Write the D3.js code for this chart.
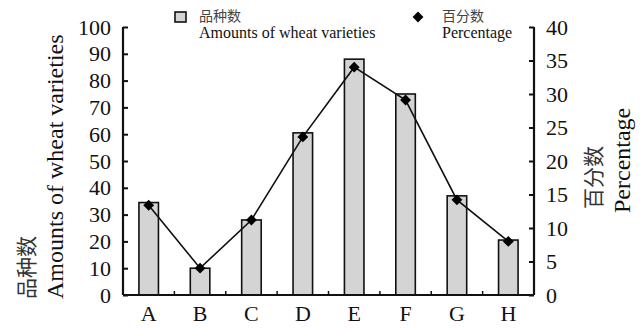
<!DOCTYPE html>
<html><head><meta charset="utf-8">
<script src="https://cdn.jsdelivr.net/npm/d3@7"></script>
<style>body{margin:0;background:#fff}svg{display:block}</style>
</head><body>
<script>
const categories = ["A","B","C","D","E","F","G","H"];
const amounts = [34.5, 10, 28, 60.5, 88, 75, 37, 20.5];
const percentages = [13.4, 4.0, 11.2, 23.6, 34.0, 29.1, 14.2, 8.0];
const leftTicks = [0,10,20,30,40,50,60,70,80,90,100];
const rightTicks = [0,5,10,15,20,25,30,35,40];

const W = 644, H = 329;
const m = {left:123, right:110, top:27, bottom:34};
const x0 = m.left, x1 = W - m.right, y0 = H - m.bottom, y1 = m.top;
const serif = "'Liberation Serif','Times New Roman',serif";
const cjk = "'Noto Sans CJK SC',sans-serif";

const svg = d3.select("body").append("svg").attr("width",W).attr("height",H);

const x = d3.scaleBand().domain(categories).range([x0,x1]).paddingInner(0.62).paddingOuter(0.31);
const xb = d3.scaleBand().domain(categories).range([x0,x1]);
const yL = d3.scaleLinear().domain([0,100]).range([y0,y1]);
const yR = d3.scaleLinear().domain([0,40]).range([y0,y1]);

// bars
svg.append("g").selectAll("rect").data(categories).join("rect")
  .attr("x", d=>x(d)).attr("width", x.bandwidth())
  .attr("y", (d,i)=>yL(amounts[i])).attr("height",(d,i)=>y0-yL(amounts[i]))
  .attr("fill","#d4d4d4").attr("stroke","#111").attr("stroke-width",1.6);

// left axis
const gL = svg.append("g").attr("transform",`translate(${x0},0)`)
  .call(d3.axisLeft(yL).tickValues(leftTicks).tickSize(-5).tickPadding(12));
// right axis
const gR = svg.append("g").attr("transform",`translate(${x1},0)`)
  .call(d3.axisRight(yR).tickValues(rightTicks).tickSize(-5).tickPadding(12));
// bottom axis
const gB = svg.append("g").attr("transform",`translate(0,${y0})`)
  .call(d3.axisBottom(xb).tickSize(0).tickPadding(10));
// inner boundary ticks
svg.append("g").selectAll("line").data(categories.slice(1)).join("line")
  .attr("x1",d=>xb(d)).attr("x2",d=>xb(d)).attr("y1",y0).attr("y2",y0-4)
  .attr("stroke","#111").attr("stroke-width",1.5);

[gL,gR,gB].forEach(g=>{
  g.select(".domain").attr("stroke","#111").attr("stroke-width",2.2);
  g.selectAll(".tick line").attr("stroke","#111").attr("stroke-width",2);
  g.selectAll("text").attr("font-family",serif).attr("font-size",22).attr("fill","#111");
});
gL.select(".domain").attr("d",`M0,${y1}V${y0}`);
gR.select(".domain").attr("d",`M0,${y1}V${y0}`);
gB.select(".domain").attr("d",`M${x0},0H${x1}`);

// line
const cx = d=>xb(d)+xb.bandwidth()/2;
svg.append("path").datum(categories)
  .attr("d", d3.line().x(d=>cx(d)).y((d,i)=>yR(percentages[i])))
  .attr("fill","none").attr("stroke","#111").attr("stroke-width",1.6);
const diamond = d3.symbol().type(d3.symbolDiamond2).size(75);
svg.append("g").selectAll("path").data(categories).join("path")
  .attr("d", diamond)
  .attr("transform",(d,i)=>`translate(${cx(d)},${yR(percentages[i])})`)
  .attr("fill","#000");

// axis titles
svg.append("text").attr("transform","translate(34,299) rotate(-90)")
  .attr("font-family",cjk).attr("font-size",21).attr("fill","#333").text("品种数");
svg.append("text").attr("transform","translate(63,299) rotate(-90)")
  .attr("font-family",serif).attr("font-size",24).attr("fill","#111").text("Amounts of wheat varieties");
svg.append("text").attr("transform","translate(601,209) rotate(-90)")
  .attr("font-family",cjk).attr("font-size",21).attr("fill","#333").text("百分数");
svg.append("text").attr("transform","translate(630,213) rotate(-90)")
  .attr("font-family",serif).attr("font-size",24).attr("fill","#111").text("Percentage");

// legend
svg.append("rect").attr("x",175).attr("y",12).attr("width",11).attr("height",10)
  .attr("fill","#d4d4d4").attr("stroke","#111").attr("stroke-width",1.6);
svg.append("text").attr("x",199).attr("y",21).attr("font-family",cjk).attr("font-size",14).attr("fill","#444").text("品种数");
svg.append("text").attr("x",199).attr("y",38).attr("font-family",serif).attr("font-size",16).attr("fill","#111").text("Amounts of wheat varieties");
svg.append("path").attr("d",diamond).attr("transform","translate(418,17)").attr("fill","#000");
svg.append("text").attr("x",442).attr("y",21).attr("font-family",cjk).attr("font-size",14).attr("fill","#444").text("百分数");
svg.append("text").attr("x",442).attr("y",38).attr("font-family",serif).attr("font-size",16).attr("fill","#111").text("Percentage");
</script>
</body></html>
